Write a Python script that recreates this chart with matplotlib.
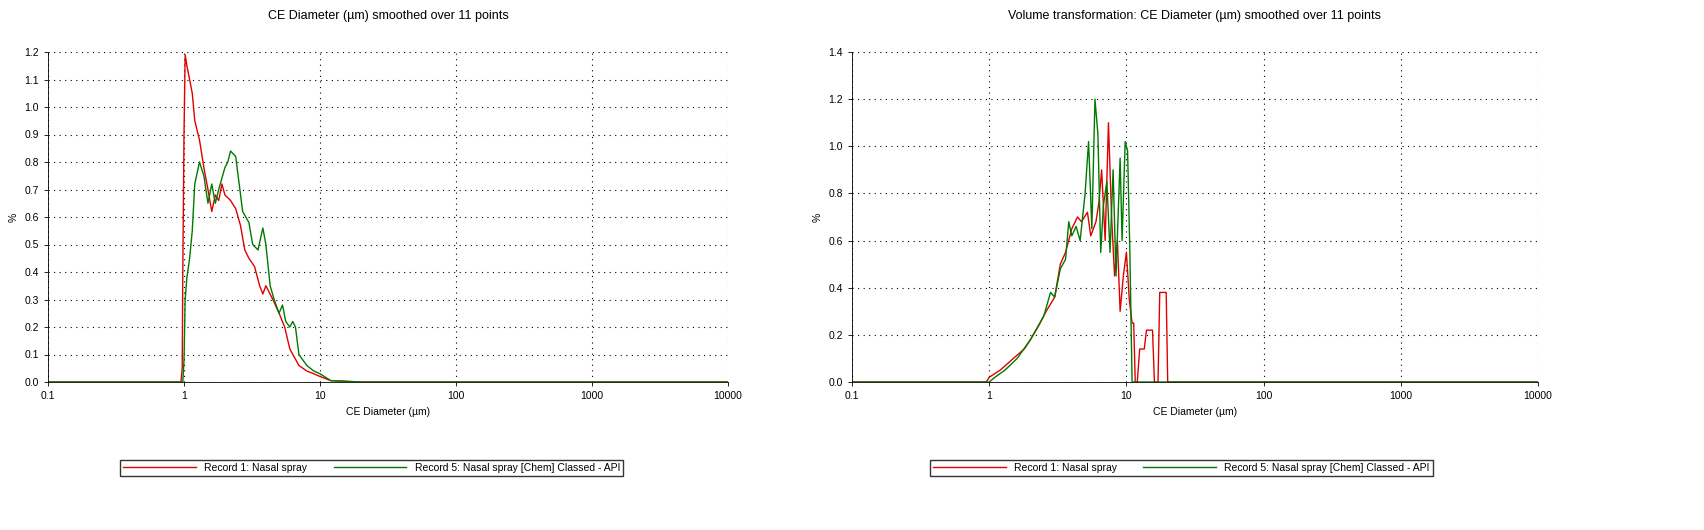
import matplotlib
matplotlib.use("Agg")
import matplotlib.pyplot as plt
from matplotlib.ticker import FixedLocator, NullLocator

plt.rcParams["font.family"] = ["Liberation Sans", "DejaVu Sans"]
plt.rcParams["font.size"] = 7.5

RED = "#e00000"
GREEN = "#007a00"

# left panel: number distribution
num_red_x = [0.1, 0.95, 0.97, 0.98, 1.0, 1.02, 1.05, 1.1, 1.15, 1.2, 1.3, 1.4, 1.5, 1.6, 1.7, 1.8, 1.9,
             2.0, 2.2, 2.4, 2.6, 2.8, 3.0, 3.3, 3.6, 3.8, 4.0, 4.5, 5.0, 5.5, 6.0, 7.0, 8.0, 9.0, 10.0,
             12.0, 20.0, 10000.0]
num_red_y = [0, 0, 0.05, 0.4, 0.9, 1.19, 1.15, 1.1, 1.05, 0.95, 0.88, 0.78, 0.7, 0.62, 0.68, 0.66, 0.72,
             0.68, 0.66, 0.63, 0.57, 0.48, 0.45, 0.42, 0.35, 0.32, 0.35, 0.3, 0.25, 0.2, 0.12, 0.06, 0.04,
             0.03, 0.02, 0.005, 0, 0]
num_green_x = [0.1, 0.98, 1.0, 1.02, 1.05, 1.1, 1.15, 1.2, 1.3, 1.4, 1.5, 1.6, 1.7, 1.8, 2.0, 2.1, 2.2,
               2.4, 2.5, 2.7, 3.0, 3.2, 3.5, 3.8, 4.0, 4.3, 4.6, 5.0, 5.3, 5.6, 6.0, 6.3, 6.6, 7.0, 8.0,
               9.0, 10.0, 12.0, 20.0, 10000.0]
num_green_y = [0, 0, 0.08, 0.3, 0.38, 0.45, 0.55, 0.72, 0.8, 0.75, 0.65, 0.72, 0.65, 0.7, 0.78, 0.8, 0.84,
               0.82, 0.75, 0.62, 0.58, 0.5, 0.48, 0.56, 0.5, 0.35, 0.3, 0.25, 0.28, 0.22, 0.2, 0.22, 0.2,
               0.1, 0.06, 0.04, 0.03, 0.005, 0, 0]

# right panel: volume transformation
vol_red_x = [0.1, 0.95, 1.0, 1.2, 1.5, 1.8, 2.0, 2.3, 2.6, 3.0, 3.3, 3.6, 4.0, 4.4, 4.7, 5.2, 5.5, 6.0,
             6.3, 6.6, 7.0, 7.4, 7.8, 8.2, 8.6, 9.0, 9.5, 10.0, 10.5, 11.0, 11.3, 11.6, 12.0, 12.5, 13.5,
             14.0, 15.5, 16.0, 17.0, 17.5, 19.5, 20.0, 10000.0]
vol_red_y = [0, 0, 0.02, 0.05, 0.1, 0.14, 0.18, 0.24, 0.3, 0.36, 0.5, 0.55, 0.65, 0.7, 0.68, 0.72, 0.62,
             0.68, 0.76, 0.9, 0.6, 1.1, 0.7, 0.45, 0.6, 0.3, 0.45, 0.55, 0.35, 0.25, 0.25, 0, 0, 0.14,
             0.14, 0.22, 0.22, 0, 0, 0.38, 0.38, 0, 0]
vol_green_x = [0.1, 1.0, 1.1, 1.3, 1.6, 2.0, 2.5, 2.8, 3.0, 3.3, 3.6, 3.8, 4.0, 4.3, 4.6, 5.0, 5.3, 5.6,
               5.9, 6.2, 6.5, 6.8, 7.2, 7.6, 8.0, 8.4, 9.0, 9.3, 9.8, 10.2, 10.6, 11.0, 100.0, 10000.0]
vol_green_y = [0, 0, 0.02, 0.05, 0.1, 0.18, 0.28, 0.38, 0.36, 0.48, 0.52, 0.68, 0.62, 0.66, 0.6, 0.8,
               1.02, 0.65, 1.2, 1.05, 0.55, 0.75, 0.85, 0.55, 0.9, 0.45, 0.95, 0.6, 1.02, 0.98, 0.55, 0,
               0, 0]

titles = ["CE Diameter (µm) smoothed over 11 points",
          "Volume transformation: CE Diameter (µm) smoothed over 11 points"]
labels = ["Record 1: Nasal spray", "Record 5: Nasal spray [Chem] Classed - API"]

fig = plt.figure(figsize=(17.04, 5.3), dpi=100)
ax1 = fig.add_axes([48 / 1704, 1 - 382 / 530, 680 / 1704, 330 / 530])
ax2 = fig.add_axes([852 / 1704, 1 - 382 / 530, 686 / 1704, 330 / 530])

panels = [
    (ax1, num_red_x, num_red_y, num_green_x, num_green_y, 1.2, 0.1),
    (ax2, vol_red_x, vol_red_y, vol_green_x, vol_green_y, 1.4, 0.2),
]
for i, (ax, rx, ry, gx, gy, ymax, step) in enumerate(panels):
    ax.plot(rx, ry, color=RED, lw=1, label=labels[0])
    ax.plot(gx, gy, color=GREEN, lw=1, label=labels[1])
    ax.set_xscale("log")
    ax.set_xlim(0.1, 10000)
    ax.set_ylim(0, ymax)
    ax.xaxis.set_major_locator(FixedLocator([0.1, 1, 10, 100, 1000, 10000]))
    ax.xaxis.set_minor_locator(NullLocator())
    ax.set_xticklabels(["0.1", "1", "10", "100", "1000", "10000"])
    n = int(round(ymax / step))
    yt = [round(k * step, 1) for k in range(n + 1)]
    ax.set_yticks(yt)
    ax.set_yticklabels([f"{v:.1f}" for v in yt])
    ax.grid(True, color="black", linestyle=(0, (1, 4)), lw=0.8)
    ax.tick_params(length=3, width=0.6)
    ax.spines["top"].set_visible(False)
    ax.spines["right"].set_visible(False)
    ax.spines["left"].set_linewidth(0.6)
    ax.spines["bottom"].set_linewidth(0.6)
    ax.set_xlabel("CE Diameter (µm)")
    ax.set_ylabel("%", rotation=90)
    ax.set_title(titles[i], pad=24)
    ax.legend(loc="upper center", bbox_to_anchor=(0.476 if i == 0 else 0.48, -0.22), ncol=2,
              frameon=True, fancybox=False, edgecolor="black", handlelength=7, columnspacing=2.5,
              borderpad=0.3)

fig.savefig("out.png", dpi=100, facecolor="white")
